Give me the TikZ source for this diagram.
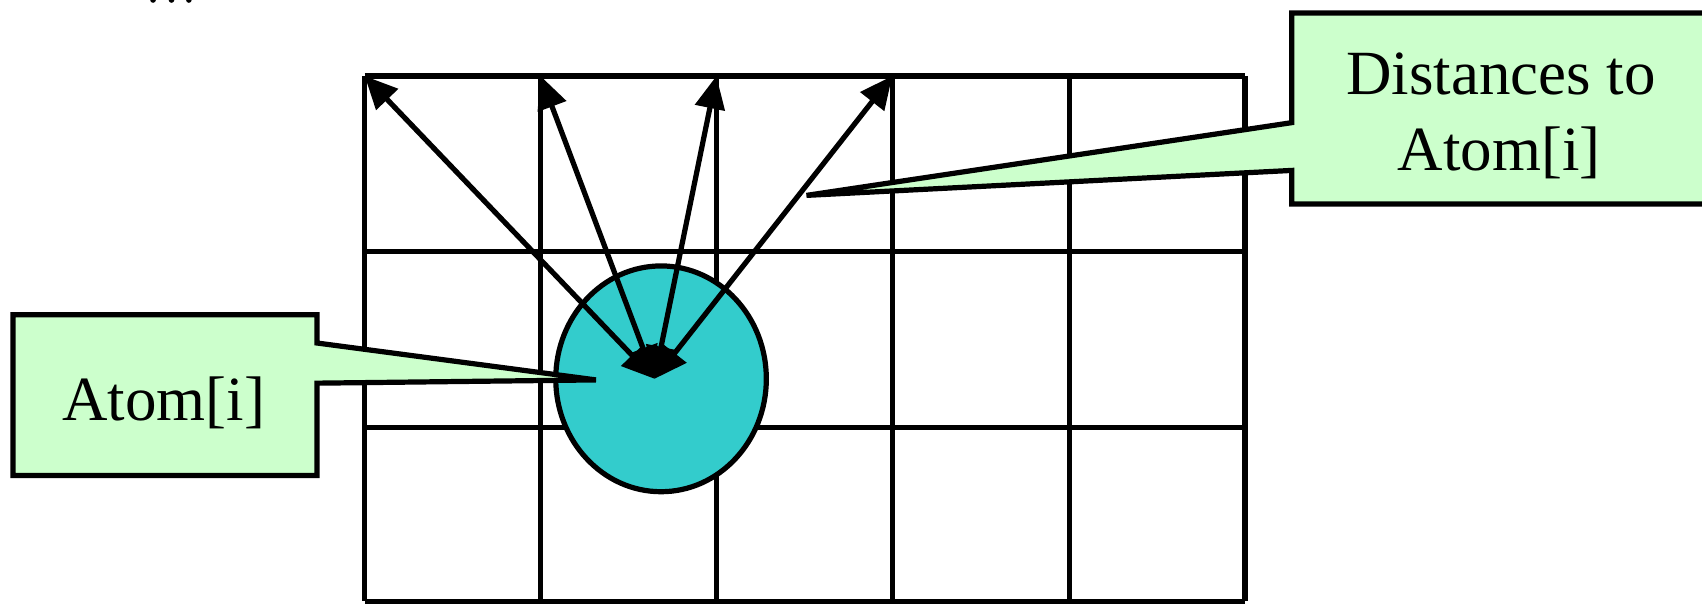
\documentclass[tikz,border=0pt]{standalone}
\usepackage{fontspec}
\setmainfont{Liberation Serif}
\usetikzlibrary{arrows.meta,shapes.geometric}
\definecolor{atomteal}{HTML}{33CCCC}
\definecolor{calloutgreen}{HTML}{CCFFCC}
\begin{document}
\begin{tikzpicture}[x=0.5pt,y=-0.5pt,
  gridline/.style={line width=2.4pt},
  callout/.style={draw=black,fill=calloutgreen,line width=2.4pt,miter limit=2},
  atomshape/.style={ellipse,draw=black,fill=atomteal,line width=2.4pt,inner sep=0pt,minimum width=97pt,minimum height=104pt},
  distarrow/.style={line width=2.4pt,{Triangle[length=15pt,width=13.6pt]}-{Triangle[length=15pt,width=13.6pt]}},
  lbl/.style={font=\fontsize{29}{36}\selectfont,inner sep=0pt}]
\useasboundingbox (0,0) rectangle (1568,556);
\clip (0,0) rectangle (1568,556);
% clipped dots at top
\foreach \x in {141,158,174} \fill (\x,0) circle[radius=2.6];
% grid
\foreach \x in {336,498,660,822,985,1147} \draw[gridline] (\x,70) -- (\x,554);
\foreach \y in {70,232,394,554} \draw[gridline] (336,\y) -- (1147,\y);
% atom
\node[atomshape] (atom) at (609,349) {};
% callouts
\coordinate (ltip) at (549,350);
\coordinate (rtip) at (743,180);
\draw[callout] (12,290) -- (292,290) -- (292,316) -- (ltip) -- (292,353) -- (292,438) -- (12,438) -- cycle;
\draw[callout] (1600,12) -- (1190,12) -- (1190,113) -- (rtip) -- (1190,157) -- (1190,188) -- (1600,188);
\node[lbl,anchor=base] (lefttext) at (151,387) {Atom[i]};
\node[lbl,anchor=base] (dist1) at (1383,87) {Distances to};
\node[lbl,anchor=base] (dist2) at (1381,157) {Atom[i]};
% arrows
\coordinate (C) at (603,349);
\coordinate (t1) at (336,70);
\coordinate (t2) at (498,70);
\coordinate (t3) at (660,70);
\coordinate (t4) at (822,70);
\foreach \t in {t1,t2,t3,t4} \draw[distarrow] (C) -- (\t);
\end{tikzpicture}
\end{document}
